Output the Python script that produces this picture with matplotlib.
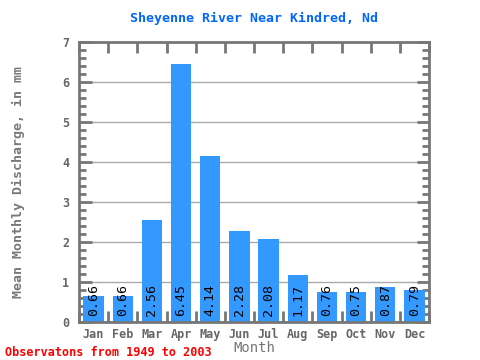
import matplotlib
matplotlib.use("Agg")
import matplotlib.pyplot as plt
import numpy as np
from matplotlib.ticker import MultipleLocator

months = ["Jan", "Feb", "Mar", "Apr", "May", "Jun", "Jul", "Aug", "Sep", "Oct", "Nov", "Dec"]
discharge = [0.66, 0.66, 2.56, 6.45, 4.14, 2.28, 2.08, 1.17, 0.76, 0.75, 0.87, 0.79]
labels = ["0.66", "0.66", "2.56", "6.45", "4.14", "2.28", "2.08", "1.17", "0.76", "0.75", "0.87", "0.79"]

mono = "DejaVu Sans Mono"
frame = "#777777"

fig = plt.figure(figsize=(4.8, 3.6), dpi=100)
ax = fig.add_axes([0.1646, 0.1056, 0.7292, 0.7777])

x = np.arange(len(months))
ax.bar(x, discharge, width=0.7, color="#3399ff", zorder=2)
for xi, lab in zip(x, labels):
    ax.text(xi, 0.15, lab, rotation=90, ha="center", va="bottom",
            fontsize=9.5, family=mono, color="black", zorder=3)

ax.set_xlim(-0.5, 11.5)
ax.set_ylim(0, 7)
ax.yaxis.grid(True, color="#aaaaaa", linewidth=1, zorder=1)
ax.set_axisbelow(True)

for s in ax.spines.values():
    s.set_color(frame)
    s.set_linewidth(2)

ax.set_xticks(x)
ax.set_xticklabels(months)
ax.set_xticks(np.arange(-0.5, 12, 1), minor=True)
ax.yaxis.set_major_locator(MultipleLocator(1))
ax.yaxis.set_minor_locator(MultipleLocator(0.2))
ax.tick_params(axis="x", which="major", length=0, pad=4)
ax.tick_params(axis="x", which="minor", direction="in", length=8, width=2,
               color=frame, top=True, bottom=True)
ax.tick_params(axis="y", which="major", direction="in", length=9, width=2,
               color=frame, left=True, right=True, pad=7)
ax.tick_params(axis="y", which="minor", direction="in", length=5, width=2,
               color=frame, left=True, right=True)
for t in ax.get_xticklabels() + ax.get_yticklabels():
    t.set_family(mono)
    t.set_fontsize(8.5)
    t.set_color("#666666")
    t.set_fontweight("bold")

ax.set_xlabel("Month", family=mono, fontsize=10, color="#777777")
ax.xaxis.set_label_coords(0.5, -0.093)
ax.xaxis.label.set_va("center")
ax.set_ylabel("Mean Monthly Discharge, in mm", family=mono, fontsize=9.5,
              color="#777777", fontweight="bold")
ax.yaxis.set_label_coords(-0.174, 0.5)
ax.yaxis.label.set_va("center")
fig.text(0.529, 0.95, "Sheyenne River Near Kindred, Nd", ha="center", va="center",
         family=mono, fontsize=9.5, color="#0066ff", fontweight="bold")
fig.text(0.01, 0.022, "Observatons from 1949 to 2003", ha="left", va="center",
         family=mono, fontsize=8.5, color="red", fontweight="bold")

fig.savefig("out.png", dpi=100)
